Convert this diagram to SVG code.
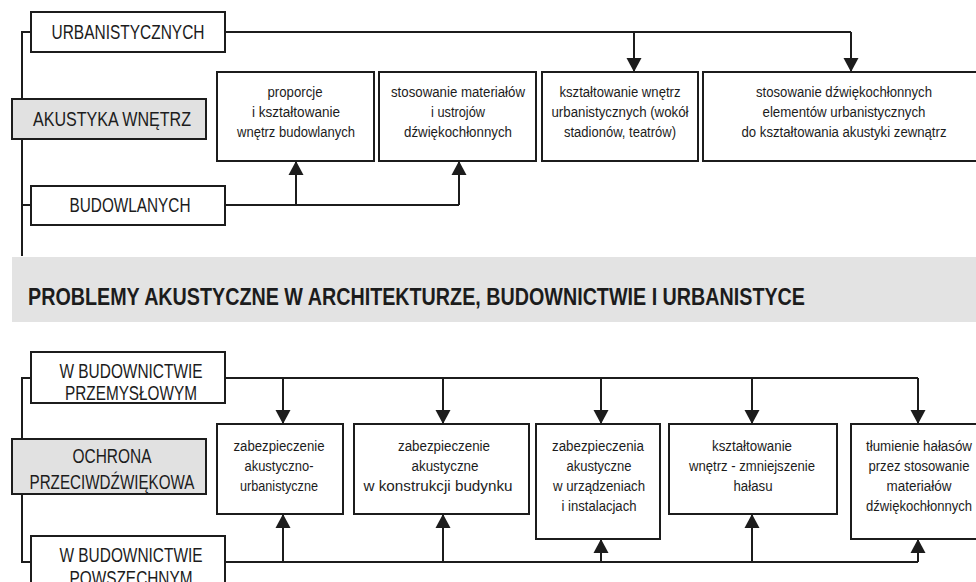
<svg xmlns="http://www.w3.org/2000/svg" width="976" height="582" viewBox="0 0 976 582">
<style>
.box{fill:#fff;stroke:#1c1c1c;stroke-width:2}
.gbox{fill:#e1e1e1;stroke:#1c1c1c;stroke-width:2}
.ln{fill:none;stroke:#1c1c1c;stroke-width:2}
.ar{fill:none;stroke:#1c1c1c;stroke-width:2;marker-end:url(#ah)}
text{font-family:"Liberation Sans Narrow","Liberation Sans",Arial,sans-serif;fill:#1c1c1c;text-anchor:middle}
.s{font-size:15.5px}
.L{font-size:19.5px}
.X{font-size:21px}
.T{font-size:24px;font-weight:bold;text-anchor:start}
</style>
<defs>
<marker id="ah" markerUnits="userSpaceOnUse" markerWidth="16" markerHeight="16" viewBox="0 0 16 16" refX="15" refY="8" orient="auto">
<path d="M1,0.5 L15,8 L1,15.5 Z" fill="#1c1c1c"/>
</marker>
</defs>

<g id="connectors">
<path class="ln" d="M31,32 H22 V256 M31,205 H22"/>
<path class="ln" d="M225,32 H851"/>
<path class="ar" d="M634,32 V72"/>
<path class="ar" d="M851,32 V72"/>
<path class="ln" d="M225,205 H459"/>
<path class="ar" d="M296,205 V161"/>
<path class="ar" d="M459,205 V161"/>

<path class="ln" d="M31,378 H22 V562 H31"/>
<path class="ln" d="M225,378 H918"/>
<path class="ar" d="M283,378 V424"/>
<path class="ar" d="M443,378 V424"/>
<path class="ar" d="M601,378 V424"/>
<path class="ar" d="M752,378 V424"/>
<path class="ar" d="M918,378 V424"/>
<path class="ln" d="M225,562 H918"/>
<path class="ar" d="M283,562 V514"/>
<path class="ar" d="M443,562 V514"/>
<path class="ar" d="M601,562 V539"/>
<path class="ar" d="M752,562 V514"/>
<path class="ar" d="M918,562 V539"/>
</g>

<g id="urbanistycznych">
<rect class="box" x="31" y="12" width="194" height="40"/>
<text class="L" x="128" y="39" textLength="153" lengthAdjust="spacingAndGlyphs">URBANISTYCZNYCH</text>
</g>
<g id="akustyka-wnetrz">
<rect class="gbox" x="12" y="99" width="194" height="40"/>
<text class="L" x="112" y="126" textLength="158" lengthAdjust="spacingAndGlyphs">AKUSTYKA WNĘTRZ</text>
</g>
<g id="budowlanych">
<rect class="box" x="31" y="186" width="194" height="39"/>
<text class="L" x="130" y="212" textLength="121" lengthAdjust="spacingAndGlyphs">BUDOWLANYCH</text>
</g>

<g id="proporcje">
<rect class="box" x="217" y="72" width="157" height="89"/>
<text class="s" x="295" y="97" textLength="55" lengthAdjust="spacingAndGlyphs">proporcje</text>
<text class="s" x="296" y="117" textLength="88" lengthAdjust="spacingAndGlyphs">i kształtowanie</text>
<text class="s" x="296" y="137" textLength="118" lengthAdjust="spacingAndGlyphs">wnętrz budowlanych</text>
</g>
<g id="stosowanie-materialow">
<rect class="box" x="379" y="72" width="157" height="89"/>
<text class="s" x="458" y="97" textLength="134" lengthAdjust="spacingAndGlyphs">stosowanie materiałów</text>
<text class="s" x="458" y="117" textLength="54" lengthAdjust="spacingAndGlyphs">i ustrojów</text>
<text class="s" x="458" y="137" textLength="108" lengthAdjust="spacingAndGlyphs">dźwiękochłonnych</text>
</g>
<g id="ksztaltowanie-wnetrz-urb">
<rect class="box" x="542" y="72" width="156" height="89"/>
<text class="s" x="620" y="97" textLength="121" lengthAdjust="spacingAndGlyphs">kształtowanie wnętrz</text>
<text class="s" x="620" y="117" textLength="137" lengthAdjust="spacingAndGlyphs">urbanistycznych (wokół</text>
<text class="s" x="620" y="137" textLength="112" lengthAdjust="spacingAndGlyphs">stadionów, teatrów)</text>
</g>
<g id="stosowanie-dzwiekochlonnych">
<rect class="box" x="703" y="72" width="285" height="89"/>
<text class="s" x="844" y="97" textLength="176" lengthAdjust="spacingAndGlyphs">stosowanie dźwiękochłonnych</text>
<text class="s" x="844" y="117" textLength="163" lengthAdjust="spacingAndGlyphs">elementów urbanistycznych</text>
<text class="s" x="844" y="137" textLength="205" lengthAdjust="spacingAndGlyphs">do kształtowania akustyki zewnątrz</text>
</g>

<g id="banner">
<rect x="12" y="257" width="970" height="65" fill="#e3e3e3"/>
<text class="T" x="28" y="305" textLength="777" lengthAdjust="spacingAndGlyphs">PROBLEMY AKUSTYCZNE W ARCHITEKTURZE, BUDOWNICTWIE I URBANISTYCE</text>
</g>

<g id="przemyslowym">
<rect class="box" x="31" y="352" width="194" height="51"/>
<text class="L" x="131" y="378" textLength="143" lengthAdjust="spacingAndGlyphs">W BUDOWNICTWIE</text>
<text class="L" x="131" y="400" textLength="132" lengthAdjust="spacingAndGlyphs">PRZEMYSŁOWYM</text>
</g>
<g id="ochrona">
<rect class="gbox" x="12" y="439" width="194" height="55"/>
<text class="X" x="112" y="463" textLength="79" lengthAdjust="spacingAndGlyphs">OCHRONA</text>
<text class="X" x="112" y="489" textLength="165" lengthAdjust="spacingAndGlyphs">PRZECIWDŹWIĘKOWA</text>
</g>
<g id="powszechnym">
<rect class="box" x="31" y="536" width="194" height="54"/>
<text class="L" x="131" y="562" textLength="143" lengthAdjust="spacingAndGlyphs">W BUDOWNICTWIE</text>
<text class="L" x="131" y="585" textLength="123" lengthAdjust="spacingAndGlyphs">POWSZECHNYM</text>
</g>

<g id="zab-urb">
<rect class="box" x="217" y="424" width="126" height="90"/>
<text class="s" x="279" y="451" textLength="91" lengthAdjust="spacingAndGlyphs">zabezpieczenie</text>
<text class="s" x="279" y="471" textLength="69" lengthAdjust="spacingAndGlyphs">akustyczno-</text>
<text class="s" x="279" y="491" textLength="78" lengthAdjust="spacingAndGlyphs">urbanistyczne</text>
</g>
<g id="zab-konstr">
<rect class="box" x="354" y="424" width="175" height="90"/>
<text class="s" x="444" y="451" textLength="92" lengthAdjust="spacingAndGlyphs">zabezpieczenie</text>
<text class="s" x="445" y="471" textLength="67" lengthAdjust="spacingAndGlyphs">akustyczne</text>
<text class="s" x="438" y="491" textLength="149" lengthAdjust="spacingAndGlyphs">w konstrukcji budynku</text>
</g>
<g id="zab-urzadz">
<rect class="box" x="536" y="424" width="124" height="115"/>
<text class="s" x="598" y="451" textLength="92" lengthAdjust="spacingAndGlyphs">zabezpieczenia</text>
<text class="s" x="599" y="471" textLength="65" lengthAdjust="spacingAndGlyphs">akustyczne</text>
<text class="s" x="599" y="491" textLength="92" lengthAdjust="spacingAndGlyphs">w urządzeniach</text>
<text class="s" x="599" y="511" textLength="75" lengthAdjust="spacingAndGlyphs">i instalacjach</text>
</g>
<g id="ksztalt-halas">
<rect class="box" x="669" y="424" width="168" height="90"/>
<text class="s" x="752" y="451" textLength="80" lengthAdjust="spacingAndGlyphs">kształtowanie</text>
<text class="s" x="752" y="471" textLength="126" lengthAdjust="spacingAndGlyphs">wnętrz - zmniejszenie</text>
<text class="s" x="753" y="491" textLength="39" lengthAdjust="spacingAndGlyphs">hałasu</text>
</g>
<g id="tlumienie">
<rect class="box" x="851" y="424" width="135" height="115"/>
<text class="s" x="919" y="451" textLength="106" lengthAdjust="spacingAndGlyphs">tłumienie hałasów</text>
<text class="s" x="919" y="471" textLength="101" lengthAdjust="spacingAndGlyphs">przez stosowanie</text>
<text class="s" x="919" y="491" textLength="65" lengthAdjust="spacingAndGlyphs">materiałów</text>
<text class="s" x="919" y="511" textLength="106" lengthAdjust="spacingAndGlyphs">dźwiękochłonnych</text>
</g>
</svg>
